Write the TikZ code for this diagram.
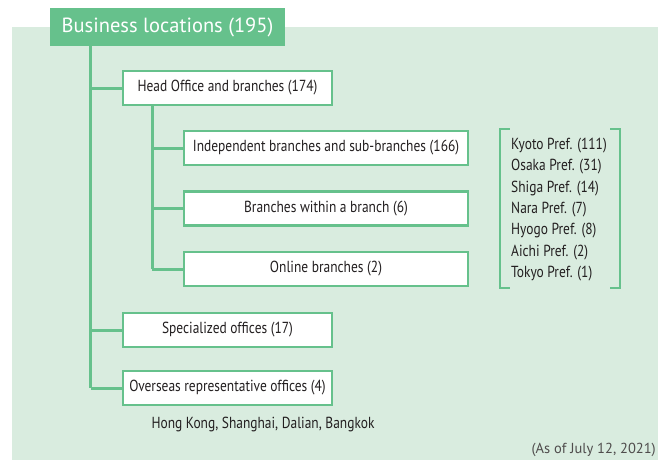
\documentclass[tikz,border=0pt]{standalone}
\usepackage{fontspec}
\setmainfont{PT Sans}
\newfontfamily\condfont{PT Sans}[FakeStretch=0.84]
\usetikzlibrary{positioning}
\definecolor{leafgreen}{HTML}{66C18C}
\definecolor{palegreen}{HTML}{D9ECDF}
\definecolor{inkgray}{HTML}{231F20}

\begin{document}
\begin{tikzpicture}[x=1pt,y=-1pt,
    title/.style={fill=leafgreen,text=white,minimum width=235pt,minimum height=38pt,
      inner sep=0pt,font=\fontsize{20.5}{24}\selectfont},
    officebox/.style={draw=leafgreen,line width=2.2pt,fill=white,minimum height=34pt,
      inner sep=0pt,text=inkgray,font=\condfont\fontsize{16}{19}\selectfont},
    trunk/.style={draw=leafgreen,line width=3pt},
    bracket/.style={draw=leafgreen,line width=1.6pt}]
        \useasboundingbox (0,0) rectangle (658,460);
        \fill[palegreen] (12,27) rectangle (658,460);
        \node[title] (T0) at (167.5,27) {Business locations (195)};
        \node[officebox,minimum width=209pt] (H0) at (227.5,88) {Head Office and branches (174)};
        \node[officebox,minimum width=284pt] (H1) at (326,148) {Independent branches and sub-branches (166)};
        \node[officebox,minimum width=284pt] (H2) at (326,208.5) {Branches within a branch (6)};
        \node[officebox,minimum width=284pt] (H3) at (326,269) {Online branches (2)};
        \node[officebox,minimum width=209pt] (S0) at (227.5,330) {Specialized offices (17)};
        \node[officebox,minimum width=209pt] (O0) at (227.5,388) {Overseas representative offices (4)};
        \node[text=inkgray,font=\condfont\fontsize{16}{19}\selectfont] (O1) at (263,424) {Hong Kong, Shanghai, Dalian, Bangkok};
        \node[text=inkgray,align=left,anchor=north west,inner sep=0pt,
          font=\condfont\fontsize{16}{21.3}\selectfont] (P0) at (511,138)
          {Kyoto Pref. (111)\\Osaka Pref. (31)\\Shiga Pref. (14)\\Nara Pref. (7)\\Hyogo Pref. (8)\\Aichi Pref. (2)\\Tokyo Pref. (1)};
        \node[minimum width=120pt,minimum height=159pt,inner sep=0pt] (B0) at (560,208.5) {};
        \node[text=inkgray!80,anchor=south east,inner sep=0pt,font=\fontsize{14.5}{17}\selectfont] (N0) at (656,457) {(As of July 12, 2021)};
        \coordinate (A0) at (T0.south -| 90.5,0);
        \coordinate (A1) at (H0.south -| 152,0);
        \path[trunk]
        (A0) edge (A0 |- O0.west)
        (A0 |- H0.west) edge (H0.west)
        (A0 |- S0.west) edge (S0.west)
        (A0 |- O0.west) edge (O0.west)
        (A1) edge (A1 |- H3.west)
        (A1 |- H1.west) edge (H1.west)
        (A1 |- H2.west) edge (H2.west)
        (A1 |- H3.west) edge (H3.west);
        \draw[bracket] ([xshift=10pt]B0.north west) -- (B0.north west) -- (B0.south west) -- ([xshift=10pt]B0.south west);
        \draw[bracket] ([xshift=-10pt]B0.north east) -- (B0.north east) -- (B0.south east) -- ([xshift=-10pt]B0.south east);
    \end{tikzpicture}
\end{document}
